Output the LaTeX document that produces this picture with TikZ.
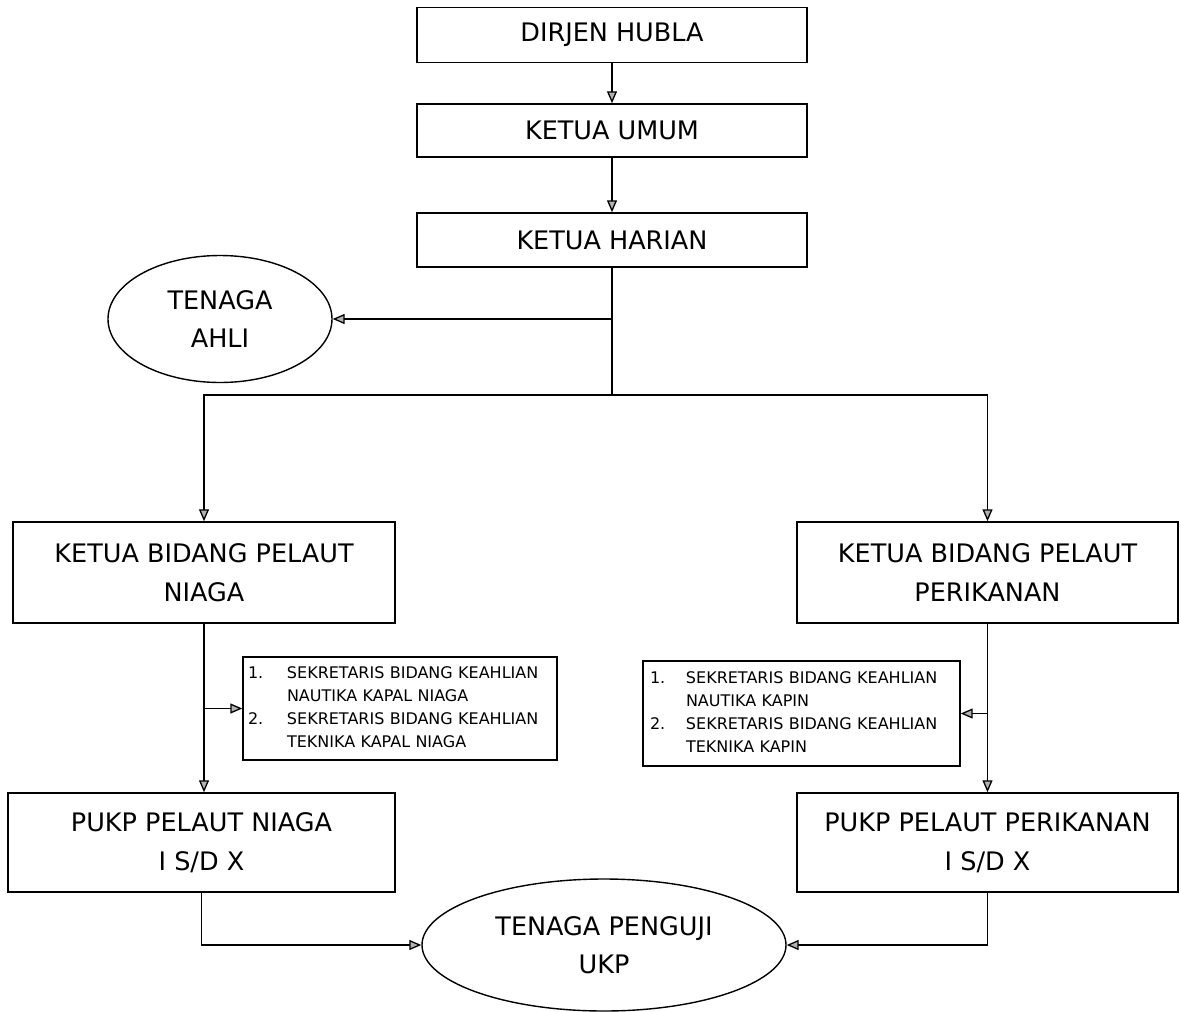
\documentclass[tikz,border=0pt]{standalone}
\usepackage{fontspec}
\setmainfont{DejaVu Sans}
\usetikzlibrary{arrows.meta,shapes.geometric}
\begin{document}
\begin{tikzpicture}[x=1pt,y=-1pt,
  box/.style={draw,line width=1.5pt,inner sep=0pt,align=center,
    font=\fontsize{25.5}{39}\selectfont},
  oval/.style={draw,ellipse,line width=1.4pt,inner sep=0pt,align=center,
    font=\fontsize{25.5}{38}\selectfont},
  smallbox/.style={draw,line width=1.4pt,inner ysep=0pt,align=left,
    font=\fontsize{16}{23}\selectfont},
  conn/.style={line width=1.3pt},
  arr/.style={conn,-{Triangle[length=12pt,width=10pt,fill=gray!60]}}]
\useasboundingbox (0,0) rectangle (1181,1012);

% top chain
\node[box,minimum width=390pt,minimum height=55pt] (dirjen) at (612,35) {DIRJEN HUBLA};
\node[box,minimum width=390pt,minimum height=53pt] (umum) at (612,130.5) {KETUA UMUM};
\node[box,minimum width=390pt,minimum height=54pt] (harian) at (612,240) {KETUA HARIAN};
\node[oval,minimum width=224pt,minimum height=127pt] (ahli) at (220,319) {TENAGA\\AHLI};

% heads of fields
\node[box,minimum width=382pt,minimum height=101pt] (kbn) at (204,572.5) {KETUA BIDANG PELAUT\\NIAGA};
\node[box,minimum width=381pt,minimum height=101pt] (kbp) at (987.5,572.5) {KETUA BIDANG PELAUT\\PERIKANAN};

% secretaries
\node[smallbox,inner xsep=5pt,text width=304pt,minimum height=103pt] (sl) at (400,708.5)
  {\begin{tabular}{@{}p{39pt}@{}l@{}}
   1.&SEKRETARIS BIDANG KEAHLIAN\\
     &NAUTIKA KAPAL NIAGA\\
   2.&SEKRETARIS BIDANG KEAHLIAN\\
     &TEKNIKA KAPAL NIAGA
   \end{tabular}};
\node[smallbox,inner xsep=7pt,text width=303pt,minimum height=105pt] (sr) at (801.5,713.5)
  {\begin{tabular}{@{}p{36pt}@{}l@{}}
   1.&SEKRETARIS BIDANG KEAHLIAN\\
     &NAUTIKA KAPIN\\
   2.&SEKRETARIS BIDANG KEAHLIAN\\
     &TEKNIKA KAPIN
   \end{tabular}};

% PUKP
\node[box,minimum width=387pt,minimum height=99pt] (pn) at (201.5,842.5) {PUKP PELAUT NIAGA\\I S/D X};
\node[box,minimum width=381pt,minimum height=99pt] (pp) at (987.5,842.5) {PUKP PELAUT PERIKANAN\\I S/D X};

\node[oval,minimum width=364pt,minimum height=132pt] (penguji) at (604,945) {TENAGA PENGUJI\\UKP};

% connectors
\draw[arr] (dirjen.south) -- (umum.north);
\draw[arr] (umum.south) -- (harian.north);
\coordinate (ja) at (harian.south |- ahli.east);
\coordinate (jb) at (612,395);
\draw[conn] (harian.south) -- (jb);
\draw[arr] (ja) -- (ahli.east);
\draw[arr] (jb) -| (kbn.north);
\draw[arr] (jb) -| (kbp.north);

\draw[arr] (kbn.south) -- (kbn.south |- pn.north);
\draw[arr] (kbn.south |- sl.west) -- (sl.west);
\draw[arr] (kbp.south) -- (kbp.south |- pp.north);
\draw[arr] (kbp.south |- sr.east) -- (sr.east);

\draw[arr] (pn.south) |- (penguji.west);
\draw[arr] (pp.south) |- (penguji.east);
\end{tikzpicture}
\end{document}
